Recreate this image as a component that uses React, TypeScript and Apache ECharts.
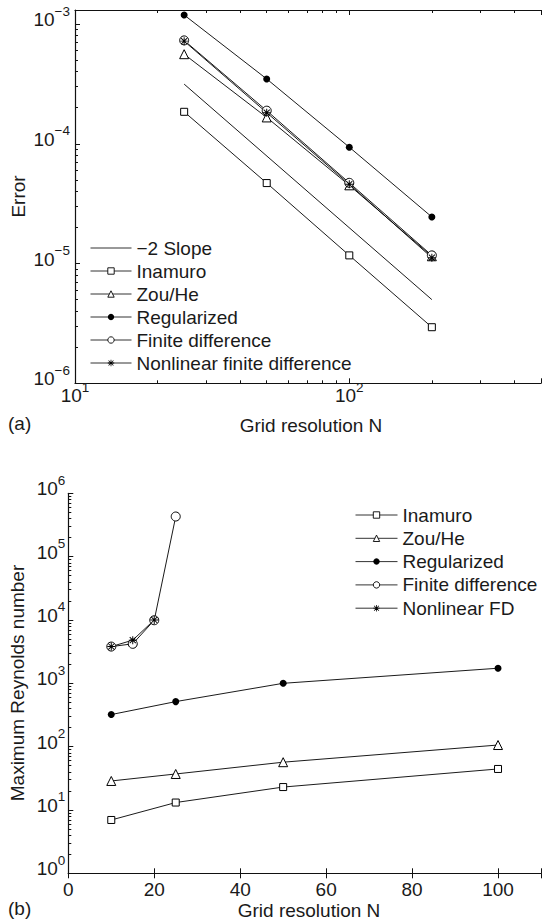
import React, { useEffect, useRef } from 'react';
import * as echarts from 'echarts';

const FONT = '"Liberation Sans", Arial, Helvetica, sans-serif';
const TXT = '#1a1a1a';

// ---------- Panel (a): Error vs grid resolution ----------
const errN = [25, 50, 100, 200];
const slopeN = [25, 200];
const slopeErr = [3.15e-4, 5.0e-6];
const inamuroErr = [1.85e-4, 4.7e-5, 1.17e-5, 2.94e-6];
const zouHeErr = [5.6e-4, 1.66e-4, 4.5e-5, 1.15e-5];
const regularizedErr = [1.19e-3, 3.48e-4, 9.37e-5, 2.45e-5];
const fdErr = [7.3e-4, 1.89e-4, 4.72e-5, 1.17e-5];
const nfdErr = [7.2e-4, 1.82e-4, 4.6e-5, 1.12e-5];
const errXRange = [10, 500];
const errYRange = [1e-6, 1.31e-3];
const legendA = ['\u22122 Slope', 'Inamuro', 'Zou/He', 'Regularized', 'Finite difference', 'Nonlinear finite difference'];

// ---------- Panel (b): Maximum Reynolds number ----------
const reN = [10, 25, 50, 100];
const inamuroRe = [6.95, 13.1, 23, 44.4];
const zouHeRe = [28.7, 37, 56.8, 106];
const regularizedRe = [321, 514, 1000, 1730];
const fdReN = [10, 15, 20, 25];
const fdRe = [3800, 4200, 9900, 4.3e5];
const nfdReN = [10, 15, 20];
const nfdRe = [3800, 4800, 10000];
const reXTicks = [0, 20, 40, 60, 80, 100];
const reXRange = [0, 110];
const reYRange = [1, 1e6];
const legendB = ['Inamuro', 'Zou/He', 'Regularized', 'Finite difference', 'Nonlinear FD'];

const ASTERISK =
  'path://M4.4,0H5.6V10H4.4Z M0,4.4H10V5.6H0Z M0.8,1.6L1.6,0.8L9.2,8.4L8.4,9.2Z M8.4,0.8L9.2,1.6L1.6,9.2L0.8,8.4Z';

const L = Math.log10;

function logMinors(lo: number, hi: number): number[] {
  const out: number[] = [];
  for (let e = Math.floor(lo) - 1; e <= Math.ceil(hi); e++) {
    for (let k = 2; k <= 9; k++) {
      const v = e + L(k);
      if (v > lo + 1e-9 && v < hi - 1e-9) out.push(v);
    }
  }
  return out;
}

const isInt = (v: number) => Math.abs(v - Math.round(v)) < 1e-6;
const supText = (n: number) => (n < 0 ? '\u2212' + -n : String(n));
const powFmt = (v: number) => (isInt(v) ? `{b|10}{s|${supText(Math.round(v))}}` : '');

const rich = {
  b: { fontSize: 19, lineHeight: 20, fontFamily: FONT, color: TXT, padding: [0, 0, 5, 0], verticalAlign: 'bottom' },
  s: { fontSize: 13.5, lineHeight: 14, fontFamily: FONT, color: TXT, padding: [0, 0, 16, 0], verticalAlign: 'bottom' },
};

const axisLineStyle = { color: '#111', width: 1.2 };
const tickStyle = { color: '#111', width: 1 };

function logLog(xs: number[], ys: number[]) {
  return xs.map((x, i) => [L(x), L(ys[i])]);
}
function linLog(xs: number[], ys: number[]) {
  return xs.map((x, i) => [x, L(ys[i])]);
}

const lineStyle = { color: '#000', width: 0.9 };
const openItem = { color: '#fff', borderColor: '#000', borderWidth: 1 };
const filledItem = { color: '#000', borderColor: '#000', borderWidth: 0 };

function legendData(names: string[]) {
  return names.map((name) =>
    /Nonlinear/.test(name) || name === 'Regularized'
      ? { name, itemStyle: { borderWidth: 0 } }
      : name.indexOf('Slope') >= 0
      ? { name, itemStyle: { borderWidth: 0, color: 'rgba(0,0,0,0)' } }
      : { name, itemStyle: { borderWidth: 0.9 } }
  );
}

function buildOption() {
  const ax = [L(errXRange[0]), L(errXRange[1])];
  const ay = [L(errYRange[0]), L(errYRange[1])];
  const by = [L(reYRange[0]), L(reYRange[1])];

  const hiddenBase = {
    type: 'value',
    axisLabel: { show: false },
    splitLine: { show: false },
  };

  const xAxis: any[] = [
    {
      gridIndex: 0, type: 'value', min: ax[0], max: ax[1], interval: 1, position: 'bottom',
      axisLine: { show: true, lineStyle: axisLineStyle },
      axisTick: { show: true, inside: true, length: 5, lineStyle: tickStyle },
      axisLabel: { show: true, formatter: powFmt, rich, margin: 7, fontSize: 19, fontFamily: FONT, color: TXT },
      splitLine: { show: false },
    },
    {
      ...hiddenBase, gridIndex: 0, min: ax[0], max: ax[1], position: 'bottom',
      axisLine: { show: false },
      axisTick: { show: true, inside: true, length: 3, lineStyle: tickStyle, customValues: logMinors(ax[0], ax[1]) },
    },
    {
      ...hiddenBase, gridIndex: 0, min: ax[0], max: ax[1], interval: 1, position: 'top',
      axisLine: { show: true, lineStyle: axisLineStyle },
      axisTick: { show: true, inside: true, length: 5, lineStyle: tickStyle },
    },
    {
      ...hiddenBase, gridIndex: 0, min: ax[0], max: ax[1], position: 'top',
      axisLine: { show: false },
      axisTick: { show: true, inside: true, length: 3, lineStyle: tickStyle, customValues: logMinors(ax[0], ax[1]) },
    },
    {
      gridIndex: 1, type: 'value', min: reXRange[0], max: reXRange[1], interval: 20, position: 'bottom',
      axisLine: { show: true, lineStyle: axisLineStyle },
      axisTick: { show: true, inside: true, length: 5, lineStyle: tickStyle },
      axisLabel: {
        show: true, margin: 7, fontSize: 19, fontFamily: FONT, color: TXT,
        formatter: (v: number) => (reXTicks.includes(v) ? String(v) : ''),
      },
      splitLine: { show: false },
    },
    {
      ...hiddenBase, gridIndex: 1, min: reXRange[0], max: reXRange[1], interval: 20, position: 'top',
      axisLine: { show: true, lineStyle: axisLineStyle },
      axisTick: { show: true, inside: true, length: 5, lineStyle: tickStyle },
    },
  ];

  const yAxis: any[] = [
    {
      gridIndex: 0, type: 'value', min: ay[0], max: ay[1], interval: 1, position: 'left',
      axisLine: { show: true, lineStyle: axisLineStyle },
      axisTick: { show: true, inside: true, length: 5, lineStyle: tickStyle },
      axisLabel: { show: true, formatter: powFmt, rich, margin: 5, fontSize: 19, fontFamily: FONT, color: TXT },
      splitLine: { show: false },
    },
    {
      ...hiddenBase, gridIndex: 0, min: ay[0], max: ay[1], position: 'left',
      axisLine: { show: false },
      axisTick: { show: true, inside: true, length: 3, lineStyle: tickStyle, customValues: logMinors(ay[0], ay[1]) },
    },
    {
      gridIndex: 1, type: 'value', min: by[0], max: by[1], interval: 1, position: 'left',
      axisLine: { show: true, lineStyle: axisLineStyle },
      axisTick: { show: true, inside: true, length: 5, lineStyle: tickStyle },
      axisLabel: { show: true, formatter: powFmt, rich, margin: 3, fontSize: 19, fontFamily: FONT, color: TXT },
      splitLine: { show: false },
    },
    {
      ...hiddenBase, gridIndex: 1, min: by[0], max: by[1], position: 'left',
      axisLine: { show: false },
      axisTick: { show: true, inside: true, length: 3, lineStyle: tickStyle, customValues: logMinors(by[0], by[1]) },
    },
  ];

  const base = { type: 'line', showAllSymbol: true, lineStyle, silent: true };
  const a = { xAxisIndex: 0, yAxisIndex: 0 };
  const b = { xAxisIndex: 4, yAxisIndex: 2 };

  const series: any[] = [
    {
      ...base, ...a, name: legendA[0], data: logLog(slopeN, slopeErr), symbol: 'none',
      itemStyle: { color: 'rgba(0,0,0,0)', borderColor: 'rgba(0,0,0,0)', borderWidth: 0 },
    },
    { ...base, ...a, name: legendA[1], data: logLog(errN, inamuroErr), symbol: 'rect', symbolSize: 7, itemStyle: openItem },
    { ...base, ...a, name: legendA[2], data: logLog(errN, zouHeErr), symbol: 'triangle', symbolSize: 9, itemStyle: openItem },
    { ...base, ...a, name: legendA[3], data: logLog(errN, regularizedErr), symbol: 'circle', symbolSize: 7, itemStyle: filledItem },
    { ...base, ...a, name: legendA[4], data: logLog(errN, fdErr), symbol: 'circle', symbolSize: 9, itemStyle: openItem },
    { ...base, ...a, name: legendA[5], data: logLog(errN, nfdErr), symbol: ASTERISK, symbolSize: 8, itemStyle: filledItem },

    { ...base, ...b, name: legendB[0], data: linLog(reN, inamuroRe), symbol: 'rect', symbolSize: 7, itemStyle: openItem },
    { ...base, ...b, name: legendB[1], data: linLog(reN, zouHeRe), symbol: 'triangle', symbolSize: 9, itemStyle: openItem },
    { ...base, ...b, name: legendB[2], data: linLog(reN, regularizedRe), symbol: 'circle', symbolSize: 7, itemStyle: filledItem },
    { ...base, ...b, name: legendB[3], data: linLog(fdReN, fdRe), symbol: 'circle', symbolSize: 9, itemStyle: openItem },
    { ...base, ...b, name: legendB[4], data: linLog(nfdReN, nfdRe), symbol: ASTERISK, symbolSize: 8, itemStyle: filledItem },
  ];

  const legendText = { fontSize: 19, lineHeight: 20, fontFamily: FONT, color: TXT };
  const legendCommon = {
    orient: 'vertical', itemHeight: 8, padding: 0, textStyle: legendText, selectedMode: false,
    lineStyle: { width: 1, color: '#333' },
  };
  const legend = [
    { ...legendCommon, left: 90, top: 238, data: legendData(legendA), itemWidth: 41, itemGap: 3 },
    { ...legendCommon, left: 355, top: 505, data: legendData(legendB), itemWidth: 42, itemGap: 3.3 },
  ];

  const t = (text: string, x: number, y: number, align = 'center', rot = 0) => ({
    type: 'text', x, y, rotation: rot, silent: true,
    style: { text, fontSize: 19, fontFamily: FONT, fill: TXT, align, verticalAlign: 'middle' },
  });

  const graphic = [
    t('Error', 18, 196.5, 'center', Math.PI / 2),
    t('Grid resolution N', 311, 425),
    t('(a)', 8, 423, 'left'),
    t('Maximum Reynolds number', 17, 683, 'center', Math.PI / 2),
    t('Grid resolution N', 309, 910),
    t('(b)', 8, 908, 'left'),
  ];

  return {
    animation: false,
    backgroundColor: '#fff',
    textStyle: { fontFamily: FONT },
    grid: [
      { left: 75, top: 10, width: 474, height: 373.3, containLabel: false },
      { left: 68.3, top: 493.3, width: 481.2, height: 380, containLabel: false },
    ],
    xAxis,
    yAxis,
    legend,
    series,
    graphic,
  };
}

export default function App() {
  const ref = useRef<HTMLDivElement>(null);
  useEffect(() => {
    document.body.style.margin = '0';
    document.body.style.overflow = 'hidden';
    if (!ref.current) return;
    const chart = echarts.init(ref.current, undefined, { renderer: 'svg' });
    chart.setOption(buildOption() as any);
    return () => chart.dispose();
  }, []);
  return <div ref={ref} style={{ width: 544, height: 921 }} />;
}
